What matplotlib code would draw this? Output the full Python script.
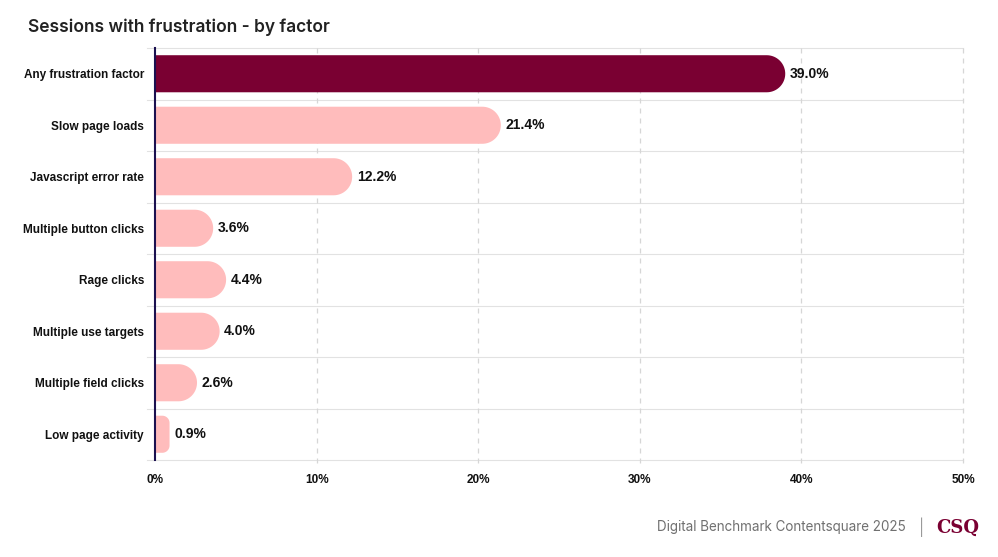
import numpy as np
import matplotlib.pyplot as plt
from matplotlib.path import Path
from matplotlib.patches import PathPatch

# data
categories = ['Any frustration factor', 'Slow page loads', 'Javascript error rate',
              'Multiple button clicks', 'Rage clicks', 'Multiple use targets',
              'Multiple field clicks', 'Low page activity']
values = [39.0, 21.4, 12.2, 3.6, 4.4, 4.0, 2.6, 0.9]
xticks = [0, 10, 20, 30, 40, 50]

dark = '#7a0032'
light = '#ffbcbc'

fig = plt.figure(figsize=(9.98, 5.57), dpi=100)
ax = fig.add_axes([155/998, 1 - 460/557, 808/998, 412/557])

n = len(categories)
ax.set_xlim(0, 50)
ax.set_ylim(n - 0.5, -0.5)

bbox = ax.get_window_extent()
sx = bbox.width / 50.0   # px per x unit
sy = bbox.height / n     # px per row
h = 0.72


def rounded_bar(y, v, color):
    # square on the left, round on the right, radius capped like the original
    r_px = min(h * sy / 2, v * sx / 2)
    rx, ry = r_px / sx, r_px / sy
    y0, y1 = y - h / 2, y + h / 2
    pts = [(0, y0), (v - rx, y0)]
    t = np.linspace(-np.pi / 2, 0, 20)
    pts += list(zip(v - rx + rx * np.cos(t), y0 + ry + ry * np.sin(t)))
    t = np.linspace(0, np.pi / 2, 20)
    pts += list(zip(v - rx + rx * np.cos(t), y1 - ry + ry * np.sin(t)))
    pts += [(0, y1), (0, y0)]
    ax.add_patch(PathPatch(Path(pts), facecolor=color, edgecolor='none', zorder=3))


for i, (cat, v) in enumerate(zip(categories, values)):
    rounded_bar(i, v, dark if i == 0 else light)
    ax.text(v + 0.28, i, f'{v:.1f}%', va='center', ha='left',
            fontsize=10, fontweight='bold', family='Liberation Sans', color='#111111', zorder=4)

# grid: solid between rows, dashed at ticks
for b in np.arange(-0.5, n, 1):
    ax.axhline(b, color='#e2e2e2', lw=0.8, zorder=1, clip_on=False, xmin=-0.01)
for xt in xticks[1:]:
    ax.plot([xt, xt], [-0.5, n - 0.5 + 0.06], color='#d6d6d6', lw=0.9, ls=(0, (4, 4)),
            zorder=1, clip_on=False)

ax.set_xticks(xticks)
ax.set_xticklabels([f'{x}%' for x in xticks])
ax.set_yticks(range(n))
ax.set_yticklabels(categories)
ax.tick_params(axis='both', length=0, labelsize=8.5, colors='#111111')
ax.tick_params(axis='x', pad=10)
ax.tick_params(axis='y', pad=8)
for lab in ax.get_xticklabels() + ax.get_yticklabels():
    lab.set_family('Liberation Sans')
    lab.set_fontweight('bold')
for lab in ax.get_yticklabels():
    lab.set_y(lab.get_position()[1])
    lab.set_va('center_baseline')

for s in ['top', 'right', 'bottom']:
    ax.spines[s].set_visible(False)
ax.spines['left'].set_color('#1b1150')
ax.spines['left'].set_linewidth(1.5)
ax.spines['left'].set_zorder(5)

fig.text(28/998, 1 - 27/557, 'Sessions with frustration - by factor', family='Inter',
         fontsize=12.5, fontweight='semibold', color='#222222', va='center')

fig.text(906/998, 1 - 527/557, 'Digital Benchmark Contentsquare 2025', family='Inter',
         fontsize=9.7, color='#707070', ha='right', va='center')
fig.text(922/998, 1 - 527/557, '|', family='Inter', fontsize=11, color='#9a9a9a',
         ha='center', va='center')
fig.text(958/998, 1 - 528/557, 'CSQ', family='DejaVu Serif', fontsize=13, fontweight='bold',
         color=dark, ha='center', va='center')

fig.savefig('out.png', dpi=100)
